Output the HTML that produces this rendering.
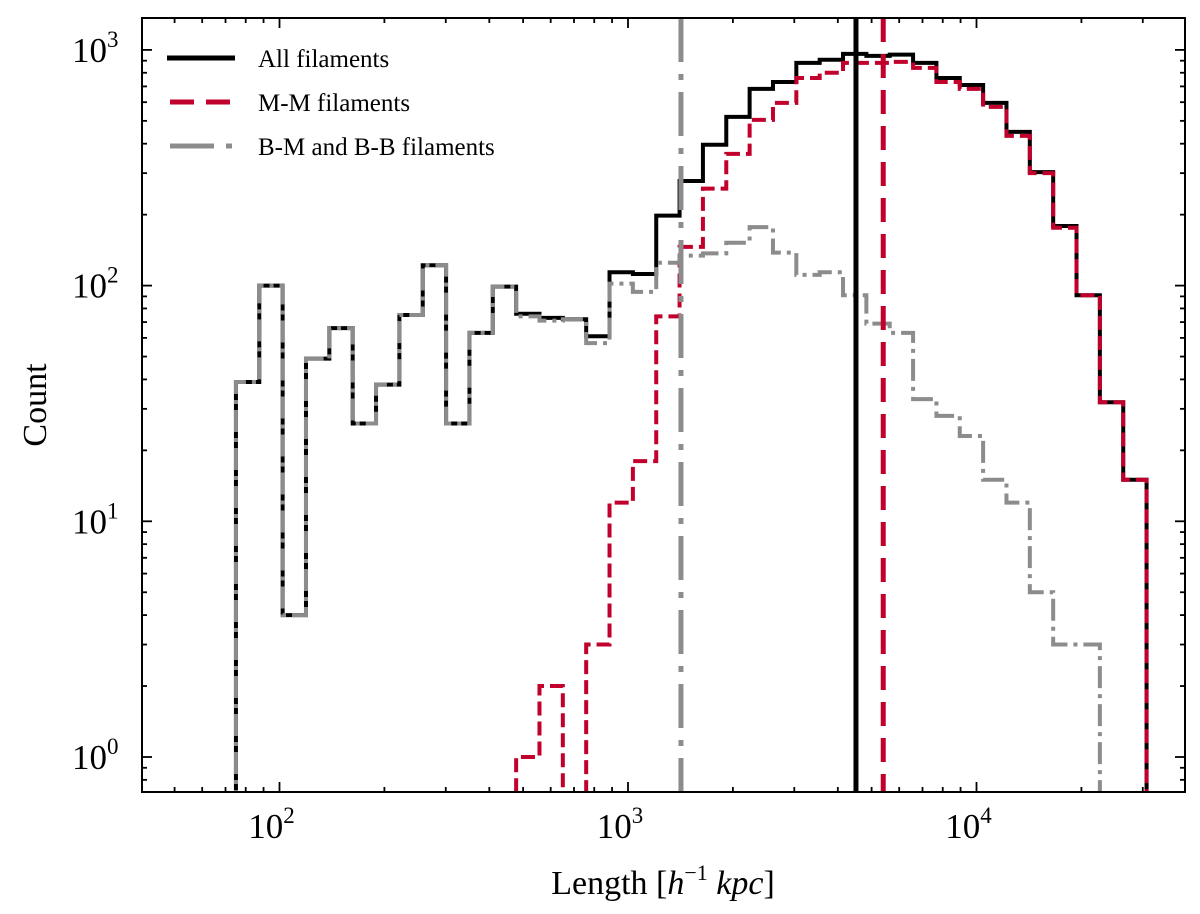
<!DOCTYPE html>
<html><head><meta charset="utf-8"><style>
html,body{margin:0;background:#fff;overflow:hidden;width:1200px;height:914px}
svg{display:block;font-family:"Liberation Serif",serif}
</style></head><body>
<svg id="chart" width="1200" height="914" viewBox="0 0 1200 914" xmlns="http://www.w3.org/2000/svg">
<defs><clipPath id="clip"><rect x="142" y="18" width="1043" height="774"/></clipPath></defs>
<g id="plot" clip-path="url(#clip)"></g>
<g id="axes"></g>
<g id="legend">
  <line x1="167" y1="58" x2="235" y2="58" stroke="#000" stroke-width="5"/>
  <text x="258" y="67" font-size="25">All filaments</text>
  <line x1="170" y1="102" x2="233" y2="102" stroke="#c1002c" stroke-width="5" stroke-dasharray="24,12"/>
  <text x="258" y="111" font-size="25">M-M filaments</text>
  <line x1="170" y1="146" x2="233" y2="146" stroke="#8c8c8c" stroke-width="5" stroke-dasharray="44,12,6,12"/>
  <text x="258" y="155" font-size="25">B-M and B-B filaments</text>
</g>
<text x="663" y="894" font-size="34" text-anchor="middle">Length [<tspan font-style="italic">h</tspan><tspan font-size="22" dy="-14">−1</tspan><tspan dy="14" font-style="italic"> kpc</tspan>]</text>
<text x="0" y="0" font-size="34" text-anchor="middle" transform="translate(46,405) rotate(-90)">Count</text>
</svg>
<script>
const binStartLog = 1.875;
const binWidthLog = 0.067;
const allCounts = [39,100,4,49,66,26,38,75,122,26,63,99,76,73,72,61,114,112,198,278,396,520,683,731,881,908,962,943,955,881,760,710,596,449,303,179,91,32,15];
const mmCounts = [0,0,0,0,0,0,0,0,0,0,0,0,1,2,0,3,12,18,74,146,258,362,505,596,760,800,881,881,890,839,731,683,573,432,300,176,91,32,15];
const bmCounts = [39,100,4,49,66,26,38,75,122,26,63,99,74,71,72,57,102,94,125,134,137,152,177,138,111,114,91,69,63,33,28,23,15,12,5,3,3,0,0];
const medianAll = 4510, medianMM = 5400, medianBM = 1419;
const xTicks = [100,1000,10000];
const yTicks = [1,10,100,1000];
const yTickLabels = ["0","1","2","3"];

const L=142,R=1185,T=18,B=792;
function xs(v){return 628+(Math.log10(v)-3)*348.5;}
function xsLog(l){return 628+(l-3)*348.5;}
function ys(v){ if(v<=0) return B+20; return 757-Math.log10(v)*235.7;}
const NS="http://www.w3.org/2000/svg";
const plot=document.getElementById('plot'), axes=document.getElementById('axes');
function mk(tag,attrs,parent){const e=document.createElementNS(NS,tag);for(const k in attrs)e.setAttribute(k,attrs[k]);parent.appendChild(e);return e;}

function stepPath(counts){
  let d="M"+xsLog(binStartLog)+","+ys(0);
  counts.forEach((c,i)=>{
    const x0=xsLog(binStartLog+i*binWidthLog), x1=xsLog(binStartLog+(i+1)*binWidthLog);
    d+=" L"+x0+","+ys(c)+" L"+x1+","+ys(c);
  });
  d+=" L"+xsLog(binStartLog+counts.length*binWidthLog)+","+ys(0);
  return d;
}
const pAll=mk('path',{d:stepPath(allCounts),fill:"none",stroke:"#000","stroke-width":4},plot);


const pMM=mk('path',{d:stepPath(mmCounts),fill:"none",stroke:"#c1002c","stroke-width":4,"stroke-dasharray":"14,6"},plot);


const pBM=mk('path',{d:stepPath(bmCounts),fill:"none",stroke:"#8c8c8c","stroke-width":4,"stroke-dasharray":"22,6,4,6"},plot);



const vAll=mk('line',{x1:xs(medianAll),x2:xs(medianAll),y1:T,y2:B,stroke:"#000","stroke-width":5},plot);


const vMM=mk('line',{x1:xs(medianMM),x2:xs(medianMM),y1:T,y2:B,stroke:"#c1002c","stroke-width":5,"stroke-dasharray":"24,12"},plot);


const vBM=mk('line',{x1:xs(medianBM),x2:xs(medianBM),y1:T,y2:B,stroke:"#8c8c8c","stroke-width":5,"stroke-dasharray":"44,12,6,12"},plot);



const fr=mk('rect',{x:L,y:T,width:R-L,height:B-T,fill:"none",stroke:"#000","stroke-width":2},axes);


for(let e=1;e<=4;e++){for(let m=1;m<10;m++){const v=m*Math.pow(10,e);const x=xs(v);if(x<L||x>R)continue;const len=m===1?10:5;
  const t1=mk('line',{x1:x,x2:x,y1:B,y2:B-len,stroke:"#000","stroke-width":1.8},axes);
  
  
  const t2=mk('line',{x1:x,x2:x,y1:T,y2:T+len,stroke:"#000","stroke-width":1.8},axes);
  
  }}
xTicks.forEach(v=>{const x=xs(v);const t=mk('text',{x:x-8,y:838,"font-size":35,"text-anchor":"middle"},axes);
  
  
  t.textContent="10";const s=mk('tspan',{"font-size":23,dy:-15},t);s.textContent=String(Math.round(Math.log10(v)));});
for(let e=-1;e<=3;e++){for(let m=1;m<10;m++){const v=m*Math.pow(10,e);const y=ys(v);if(y<T||y>B)continue;const len=m===1?10:5;
  const t1=mk('line',{x1:L,x2:L+len,y1:y,y2:y,stroke:"#000","stroke-width":1.8},axes);
  
  
  const t2=mk('line',{x1:R,x2:R-len,y1:y,y2:y,stroke:"#000","stroke-width":1.8},axes);
  
  }}
yTicks.forEach((v,i)=>{const y=ys(v);const t=mk('text',{x:72,y:y+12,"font-size":35},axes);
  
  
  t.textContent="10";const s=mk('tspan',{"font-size":23,dy:-15},t);s.textContent=yTickLabels[i];});
</script>
</body></html>
